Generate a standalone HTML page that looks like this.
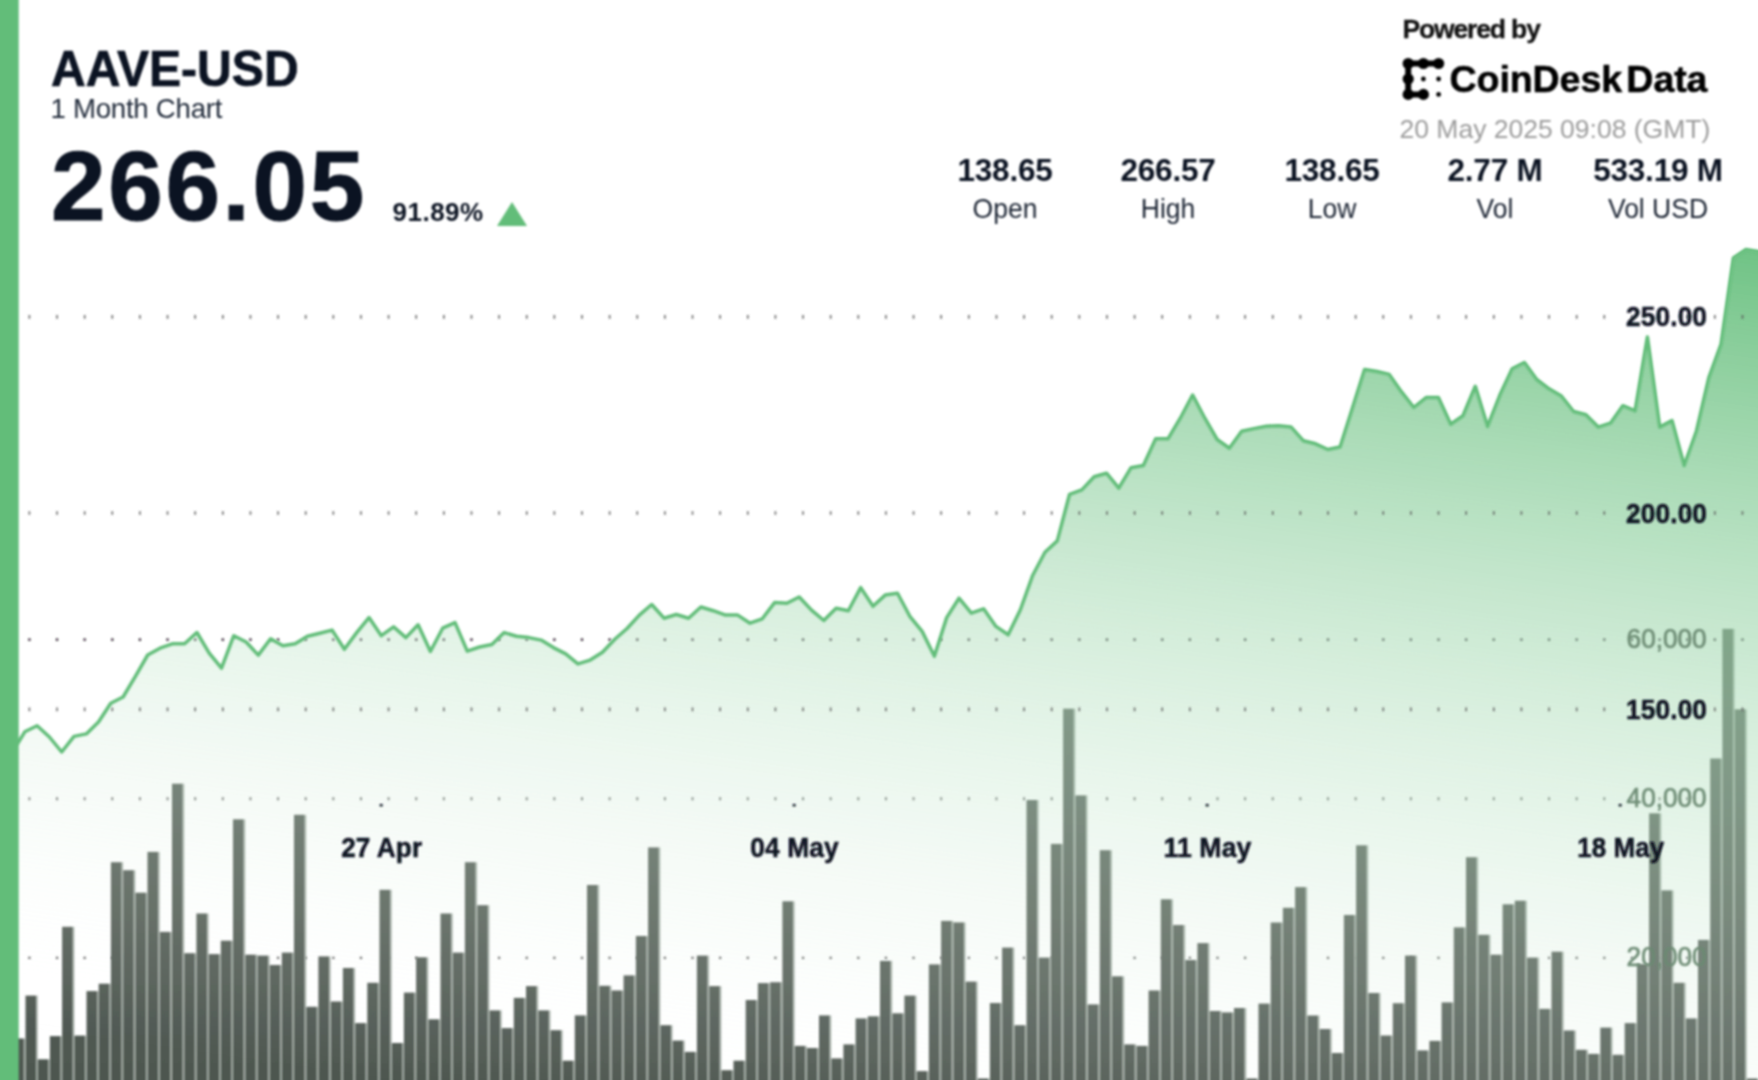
<!DOCTYPE html>
<html lang="en"><head><meta charset="utf-8"><title>AAVE-USD 1 Month Chart</title>
<style>
html,body{margin:0;padding:0;background:#fff;}
body{width:1758px;height:1080px;overflow:hidden;position:relative;font-family:"Liberation Sans",sans-serif;color:#0b1322;}
.chart{position:absolute;left:0;top:0;}
.chart text{font-family:"Liberation Sans",sans-serif;}
.pb{font-weight:700;font-size:28px;text-anchor:end;fill:#0b1322;stroke:#0b1322;stroke-width:0.5px;letter-spacing:0.1px;}
.vl{font-weight:400;font-size:27px;text-anchor:end;fill:#6b8a73;stroke:#6b8a73;stroke-width:0.7px;fill-opacity:.95;stroke-opacity:.95;}
.xlab text{font-weight:700;font-size:27.8px;text-anchor:middle;fill:#0b1322;stroke:#0b1322;stroke-width:0.5px;letter-spacing:0.1px;}
.t{position:absolute;white-space:nowrap;line-height:1;}
.hdr{position:absolute;left:0;top:0;width:1758px;height:260px;filter:blur(0.9px);}
#sym{left:50.8px;top:44.6px;font-size:49.6px;font-weight:700;transform:scaleX(0.97);transform-origin:0 0;-webkit-text-stroke:0.7px #0b1322;}
#sub{left:50.5px;top:94.5px;font-size:27.6px;color:#1e2838;letter-spacing:-0.25px;}
#px{left:51px;top:137px;font-size:98px;font-weight:700;letter-spacing:2.7px;-webkit-text-stroke:1px #0b1322;}
#pct{left:392.5px;top:199px;font-size:26px;font-weight:700;letter-spacing:0.5px;}
#tri{left:497.3px;top:201.7px;width:0;height:0;border-left:15.5px solid transparent;border-right:15.5px solid transparent;border-bottom:24px solid #62bd79;}
.st{position:absolute;top:0;width:200px;text-align:center;}
.st b{position:absolute;left:0;width:200px;top:155px;font-size:31.5px;font-weight:700;line-height:1;white-space:nowrap;letter-spacing:-0.2px;}
.st span{position:absolute;left:0;width:200px;top:194.8px;font-size:27.6px;line-height:1;color:#1a2332;white-space:nowrap;transform:scaleX(0.96);}
#pw{left:1402.5px;top:16px;font-size:26.5px;font-weight:700;color:#111;letter-spacing:-1.15px;-webkit-text-stroke:0.3px #111;}
#cd{left:1449.5px;top:61.3px;font-size:37.6px;font-weight:700;color:#000;letter-spacing:-0.1px;word-spacing:-6px;-webkit-text-stroke:0.5px #000;}
#dt{left:1399.5px;top:115.6px;font-size:26.5px;color:#9c9c9c;}
.logo{position:absolute;left:0;top:0;}
</style></head><body>
<svg class="chart" width="1758" height="1080" viewBox="0 0 1758 1080">
<defs>
<linearGradient id="ag" gradientUnits="userSpaceOnUse" x1="1758" y1="256.6" x2="1615.1" y2="1256.6">
<stop offset="0" stop-color="#62bd79" stop-opacity="0.9"/>
<stop offset="1" stop-color="#ffffff" stop-opacity="0"/>
</linearGradient>
<linearGradient id="bg" gradientUnits="userSpaceOnUse" x1="0" y1="700" x2="0" y2="1080">
<stop offset="0" stop-color="#5d675f"/>
<stop offset="1" stop-color="#4e5750"/>
</linearGradient>
<filter id="soft" x="-5%" y="-5%" width="110%" height="110%"><feGaussianBlur stdDeviation="0.9"/></filter>
<filter id="soft2" x="-5%" y="-5%" width="110%" height="110%"><feGaussianBlur stdDeviation="0.85"/></filter>
</defs>
<g filter="url(#soft2)"><g stroke="#140a14" stroke-opacity="0.95"><line x1="28.27" y1="639.7" x2="1758" y2="639.7" stroke-width="2.25" stroke-dasharray="2.25 25.38"/></g><g stroke="#6e6e6e"><line x1="28.45" y1="798.7" x2="1758" y2="798.7" stroke-width="3.0" stroke-dasharray="1.9 25.73"/></g><g stroke="#5c5c5c"><line x1="28.30" y1="957.9" x2="1758" y2="957.9" stroke-width="2.2" stroke-dasharray="2.2 25.43"/></g></g>
<g filter="url(#soft)">
<g fill="#a3ada5"><rect x="23.9" y="1038.5" width="1.5" height="46.5"/><rect x="36.2" y="995.6" width="1.5" height="89.4"/><rect x="48.4" y="1059.3" width="1.5" height="25.7"/><rect x="60.6" y="1036.1" width="1.5" height="48.9"/><rect x="72.8" y="926.8" width="1.5" height="158.2"/><rect x="85.0" y="1035.6" width="1.5" height="49.4"/><rect x="97.2" y="991.1" width="1.5" height="93.9"/><rect x="109.4" y="983.7" width="1.5" height="101.3"/><rect x="121.6" y="862.2" width="1.5" height="222.8"/><rect x="133.8" y="870.2" width="1.5" height="214.8"/><rect x="146.0" y="892.7" width="1.5" height="192.3"/><rect x="158.2" y="851.9" width="1.5" height="233.1"/><rect x="170.4" y="931.9" width="1.5" height="153.1"/><rect x="182.7" y="783.7" width="1.5" height="301.3"/><rect x="194.9" y="953.2" width="1.5" height="131.8"/><rect x="207.1" y="913.5" width="1.5" height="171.5"/><rect x="219.3" y="954.1" width="1.5" height="130.9"/><rect x="231.5" y="940.7" width="1.5" height="144.3"/><rect x="243.7" y="819.3" width="1.5" height="265.7"/><rect x="255.9" y="954.7" width="1.5" height="130.3"/><rect x="268.1" y="955.6" width="1.5" height="129.4"/><rect x="280.3" y="965.0" width="1.5" height="120.0"/><rect x="292.5" y="952.6" width="1.5" height="132.4"/><rect x="304.7" y="814.8" width="1.5" height="270.2"/><rect x="316.9" y="1006.8" width="1.5" height="78.2"/><rect x="329.1" y="956.4" width="1.5" height="128.6"/><rect x="341.4" y="1001.5" width="1.5" height="83.5"/><rect x="353.6" y="968.0" width="1.5" height="117.0"/><rect x="365.8" y="1023.1" width="1.5" height="61.9"/><rect x="378.0" y="982.8" width="1.5" height="102.2"/><rect x="390.2" y="889.8" width="1.5" height="195.2"/><rect x="402.4" y="1043.0" width="1.5" height="42.0"/><rect x="414.6" y="992.6" width="1.5" height="92.4"/><rect x="426.8" y="957.3" width="1.5" height="127.7"/><rect x="439.0" y="1019.3" width="1.5" height="65.7"/><rect x="451.2" y="913.5" width="1.5" height="171.5"/><rect x="463.4" y="952.6" width="1.5" height="132.4"/><rect x="475.6" y="862.2" width="1.5" height="222.8"/><rect x="487.9" y="905.2" width="1.5" height="179.8"/><rect x="500.1" y="1010.4" width="1.5" height="74.6"/><rect x="512.3" y="1028.1" width="1.5" height="56.9"/><rect x="524.5" y="997.9" width="1.5" height="87.1"/><rect x="536.7" y="986.1" width="1.5" height="98.9"/><rect x="548.9" y="1010.4" width="1.5" height="74.6"/><rect x="561.1" y="1030.2" width="1.5" height="54.8"/><rect x="573.3" y="1060.7" width="1.5" height="24.3"/><rect x="585.5" y="1015.4" width="1.5" height="69.6"/><rect x="597.7" y="885.0" width="1.5" height="200.0"/><rect x="609.9" y="985.8" width="1.5" height="99.2"/><rect x="622.1" y="990.5" width="1.5" height="94.5"/><rect x="634.4" y="975.4" width="1.5" height="109.6"/><rect x="646.6" y="936.0" width="1.5" height="149.0"/><rect x="658.8" y="847.4" width="1.5" height="237.6"/><rect x="671.0" y="1025.2" width="1.5" height="59.8"/><rect x="683.2" y="1040.6" width="1.5" height="44.4"/><rect x="695.4" y="1051.9" width="1.5" height="33.1"/><rect x="707.6" y="955.6" width="1.5" height="129.4"/><rect x="719.8" y="986.1" width="1.5" height="98.9"/><rect x="732.0" y="1070.2" width="1.5" height="14.8"/><rect x="744.2" y="1060.7" width="1.5" height="24.3"/><rect x="756.4" y="1000.0" width="1.5" height="85.0"/><rect x="768.6" y="983.1" width="1.5" height="101.9"/><rect x="780.8" y="982.2" width="1.5" height="102.8"/><rect x="793.1" y="901.3" width="1.5" height="183.7"/><rect x="805.3" y="1045.9" width="1.5" height="39.1"/><rect x="817.5" y="1048.0" width="1.5" height="37.0"/><rect x="829.7" y="1015.4" width="1.5" height="69.6"/><rect x="841.9" y="1058.4" width="1.5" height="26.6"/><rect x="854.1" y="1044.4" width="1.5" height="40.6"/><rect x="866.3" y="1018.4" width="1.5" height="66.6"/><rect x="878.5" y="1016.3" width="1.5" height="68.7"/><rect x="890.7" y="960.9" width="1.5" height="124.1"/><rect x="902.9" y="1013.3" width="1.5" height="71.7"/><rect x="915.1" y="995.6" width="1.5" height="89.4"/><rect x="927.3" y="1071.1" width="1.5" height="13.9"/><rect x="939.6" y="964.4" width="1.5" height="120.6"/><rect x="951.8" y="920.9" width="1.5" height="164.1"/><rect x="964.0" y="922.4" width="1.5" height="162.6"/><rect x="976.2" y="981.6" width="1.5" height="103.4"/><rect x="988.4" y="1078.5" width="1.5" height="6.5"/><rect x="1000.6" y="1003.0" width="1.5" height="82.0"/><rect x="1012.8" y="947.6" width="1.5" height="137.4"/><rect x="1025.0" y="1025.2" width="1.5" height="59.8"/><rect x="1037.2" y="800.0" width="1.5" height="285.0"/><rect x="1049.4" y="957.6" width="1.5" height="127.4"/><rect x="1061.6" y="843.9" width="1.5" height="241.1"/><rect x="1073.8" y="708.7" width="1.5" height="376.3"/><rect x="1086.0" y="795.4" width="1.5" height="289.6"/><rect x="1098.3" y="1004.4" width="1.5" height="80.6"/><rect x="1110.5" y="850.2" width="1.5" height="234.8"/><rect x="1122.7" y="976.3" width="1.5" height="108.7"/><rect x="1134.9" y="1044.4" width="1.5" height="40.6"/><rect x="1147.1" y="1045.9" width="1.5" height="39.1"/><rect x="1159.3" y="990.5" width="1.5" height="94.5"/><rect x="1171.5" y="899.3" width="1.5" height="185.7"/><rect x="1183.7" y="925.0" width="1.5" height="160.0"/><rect x="1195.9" y="960.0" width="1.5" height="125.0"/><rect x="1208.1" y="943.1" width="1.5" height="141.9"/><rect x="1220.3" y="1011.0" width="1.5" height="74.0"/><rect x="1232.5" y="1012.4" width="1.5" height="72.6"/><rect x="1244.8" y="1008.0" width="1.5" height="77.0"/><rect x="1257.0" y="1078.5" width="1.5" height="6.5"/><rect x="1269.2" y="1003.6" width="1.5" height="81.4"/><rect x="1281.4" y="922.5" width="1.5" height="162.5"/><rect x="1293.6" y="907.8" width="1.5" height="177.2"/><rect x="1305.8" y="887.1" width="1.5" height="197.9"/><rect x="1318.0" y="1015.5" width="1.5" height="69.5"/><rect x="1330.2" y="1029.0" width="1.5" height="56.0"/><rect x="1342.4" y="1053.0" width="1.5" height="32.0"/><rect x="1354.6" y="915.0" width="1.5" height="170.0"/><rect x="1366.8" y="845.3" width="1.5" height="239.7"/><rect x="1379.0" y="993.0" width="1.5" height="92.0"/><rect x="1391.2" y="1035.5" width="1.5" height="49.5"/><rect x="1403.5" y="1003.2" width="1.5" height="81.8"/><rect x="1415.7" y="955.6" width="1.5" height="129.4"/><rect x="1427.9" y="1050.4" width="1.5" height="34.6"/><rect x="1440.1" y="1040.9" width="1.5" height="44.1"/><rect x="1452.3" y="1002.4" width="1.5" height="82.6"/><rect x="1464.5" y="927.4" width="1.5" height="157.6"/><rect x="1476.7" y="857.2" width="1.5" height="227.8"/><rect x="1488.9" y="934.8" width="1.5" height="150.2"/><rect x="1501.1" y="954.7" width="1.5" height="130.3"/><rect x="1513.3" y="904.3" width="1.5" height="180.7"/><rect x="1525.5" y="900.7" width="1.5" height="184.3"/><rect x="1537.7" y="957.6" width="1.5" height="127.4"/><rect x="1550.0" y="1008.9" width="1.5" height="76.1"/><rect x="1562.2" y="951.7" width="1.5" height="133.3"/><rect x="1574.4" y="1030.5" width="1.5" height="54.5"/><rect x="1586.6" y="1049.8" width="1.5" height="35.2"/><rect x="1598.8" y="1053.9" width="1.5" height="31.1"/><rect x="1611.0" y="1027.6" width="1.5" height="57.4"/><rect x="1623.2" y="1054.8" width="1.5" height="30.2"/><rect x="1635.4" y="1023.1" width="1.5" height="61.9"/><rect x="1647.6" y="964.0" width="1.5" height="121.0"/><rect x="1659.8" y="813.3" width="1.5" height="271.7"/><rect x="1672.0" y="890.4" width="1.5" height="194.6"/><rect x="1684.2" y="982.8" width="1.5" height="102.2"/><rect x="1696.4" y="1018.4" width="1.5" height="66.6"/><rect x="1708.7" y="939.9" width="1.5" height="145.1"/><rect x="1720.9" y="758.5" width="1.5" height="326.5"/><rect x="1733.1" y="628.9" width="1.5" height="456.1"/><rect x="1745.3" y="709.3" width="1.5" height="375.7"/><rect x="1757.5" y="1078.5" width="1.5" height="6.5"/></g><g fill="url(#bg)"><rect x="13.2" y="1038.5" width="10.7" height="46.5"/><rect x="25.5" y="995.6" width="10.7" height="89.4"/><rect x="37.7" y="1059.3" width="10.7" height="25.7"/><rect x="49.9" y="1036.1" width="10.7" height="48.9"/><rect x="62.1" y="926.8" width="10.7" height="158.2"/><rect x="74.3" y="1035.6" width="10.7" height="49.4"/><rect x="86.5" y="991.1" width="10.7" height="93.9"/><rect x="98.7" y="983.7" width="10.7" height="101.3"/><rect x="110.9" y="862.2" width="10.7" height="222.8"/><rect x="123.1" y="870.2" width="10.7" height="214.8"/><rect x="135.3" y="892.7" width="10.7" height="192.3"/><rect x="147.5" y="851.9" width="10.7" height="233.1"/><rect x="159.7" y="931.9" width="10.7" height="153.1"/><rect x="172.0" y="783.7" width="10.7" height="301.3"/><rect x="184.2" y="953.2" width="10.7" height="131.8"/><rect x="196.4" y="913.5" width="10.7" height="171.5"/><rect x="208.6" y="954.1" width="10.7" height="130.9"/><rect x="220.8" y="940.7" width="10.7" height="144.3"/><rect x="233.0" y="819.3" width="10.7" height="265.7"/><rect x="245.2" y="954.7" width="10.7" height="130.3"/><rect x="257.4" y="955.6" width="10.7" height="129.4"/><rect x="269.6" y="965.0" width="10.7" height="120.0"/><rect x="281.8" y="952.6" width="10.7" height="132.4"/><rect x="294.0" y="814.8" width="10.7" height="270.2"/><rect x="306.2" y="1006.8" width="10.7" height="78.2"/><rect x="318.4" y="956.4" width="10.7" height="128.6"/><rect x="330.7" y="1001.5" width="10.7" height="83.5"/><rect x="342.9" y="968.0" width="10.7" height="117.0"/><rect x="355.1" y="1023.1" width="10.7" height="61.9"/><rect x="367.3" y="982.8" width="10.7" height="102.2"/><rect x="379.5" y="889.8" width="10.7" height="195.2"/><rect x="391.7" y="1043.0" width="10.7" height="42.0"/><rect x="403.9" y="992.6" width="10.7" height="92.4"/><rect x="416.1" y="957.3" width="10.7" height="127.7"/><rect x="428.3" y="1019.3" width="10.7" height="65.7"/><rect x="440.5" y="913.5" width="10.7" height="171.5"/><rect x="452.7" y="952.6" width="10.7" height="132.4"/><rect x="464.9" y="862.2" width="10.7" height="222.8"/><rect x="477.2" y="905.2" width="10.7" height="179.8"/><rect x="489.4" y="1010.4" width="10.7" height="74.6"/><rect x="501.6" y="1028.1" width="10.7" height="56.9"/><rect x="513.8" y="997.9" width="10.7" height="87.1"/><rect x="526.0" y="986.1" width="10.7" height="98.9"/><rect x="538.2" y="1010.4" width="10.7" height="74.6"/><rect x="550.4" y="1030.2" width="10.7" height="54.8"/><rect x="562.6" y="1060.7" width="10.7" height="24.3"/><rect x="574.8" y="1015.4" width="10.7" height="69.6"/><rect x="587.0" y="885.0" width="10.7" height="200.0"/><rect x="599.2" y="985.8" width="10.7" height="99.2"/><rect x="611.4" y="990.5" width="10.7" height="94.5"/><rect x="623.6" y="975.4" width="10.7" height="109.6"/><rect x="635.9" y="936.0" width="10.7" height="149.0"/><rect x="648.1" y="847.4" width="10.7" height="237.6"/><rect x="660.3" y="1025.2" width="10.7" height="59.8"/><rect x="672.5" y="1040.6" width="10.7" height="44.4"/><rect x="684.7" y="1051.9" width="10.7" height="33.1"/><rect x="696.9" y="955.6" width="10.7" height="129.4"/><rect x="709.1" y="986.1" width="10.7" height="98.9"/><rect x="721.3" y="1070.2" width="10.7" height="14.8"/><rect x="733.5" y="1060.7" width="10.7" height="24.3"/><rect x="745.7" y="1000.0" width="10.7" height="85.0"/><rect x="757.9" y="983.1" width="10.7" height="101.9"/><rect x="770.1" y="982.2" width="10.7" height="102.8"/><rect x="782.4" y="901.3" width="10.7" height="183.7"/><rect x="794.6" y="1045.9" width="10.7" height="39.1"/><rect x="806.8" y="1048.0" width="10.7" height="37.0"/><rect x="819.0" y="1015.4" width="10.7" height="69.6"/><rect x="831.2" y="1058.4" width="10.7" height="26.6"/><rect x="843.4" y="1044.4" width="10.7" height="40.6"/><rect x="855.6" y="1018.4" width="10.7" height="66.6"/><rect x="867.8" y="1016.3" width="10.7" height="68.7"/><rect x="880.0" y="960.9" width="10.7" height="124.1"/><rect x="892.2" y="1013.3" width="10.7" height="71.7"/><rect x="904.4" y="995.6" width="10.7" height="89.4"/><rect x="916.6" y="1071.1" width="10.7" height="13.9"/><rect x="928.9" y="964.4" width="10.7" height="120.6"/><rect x="941.1" y="920.9" width="10.7" height="164.1"/><rect x="953.3" y="922.4" width="10.7" height="162.6"/><rect x="965.5" y="981.6" width="10.7" height="103.4"/><rect x="977.7" y="1078.5" width="10.7" height="6.5"/><rect x="989.9" y="1003.0" width="10.7" height="82.0"/><rect x="1002.1" y="947.6" width="10.7" height="137.4"/><rect x="1014.3" y="1025.2" width="10.7" height="59.8"/><rect x="1026.5" y="800.0" width="10.7" height="285.0"/><rect x="1038.7" y="957.6" width="10.7" height="127.4"/><rect x="1050.9" y="843.9" width="10.7" height="241.1"/><rect x="1063.1" y="708.7" width="10.7" height="376.3"/><rect x="1075.3" y="795.4" width="10.7" height="289.6"/><rect x="1087.6" y="1004.4" width="10.7" height="80.6"/><rect x="1099.8" y="850.2" width="10.7" height="234.8"/><rect x="1112.0" y="976.3" width="10.7" height="108.7"/><rect x="1124.2" y="1044.4" width="10.7" height="40.6"/><rect x="1136.4" y="1045.9" width="10.7" height="39.1"/><rect x="1148.6" y="990.5" width="10.7" height="94.5"/><rect x="1160.8" y="899.3" width="10.7" height="185.7"/><rect x="1173.0" y="925.0" width="10.7" height="160.0"/><rect x="1185.2" y="960.0" width="10.7" height="125.0"/><rect x="1197.4" y="943.1" width="10.7" height="141.9"/><rect x="1209.6" y="1011.0" width="10.7" height="74.0"/><rect x="1221.8" y="1012.4" width="10.7" height="72.6"/><rect x="1234.0" y="1008.0" width="10.7" height="77.0"/><rect x="1246.3" y="1078.5" width="10.7" height="6.5"/><rect x="1258.5" y="1003.6" width="10.7" height="81.4"/><rect x="1270.7" y="922.5" width="10.7" height="162.5"/><rect x="1282.9" y="907.8" width="10.7" height="177.2"/><rect x="1295.1" y="887.1" width="10.7" height="197.9"/><rect x="1307.3" y="1015.5" width="10.7" height="69.5"/><rect x="1319.5" y="1029.0" width="10.7" height="56.0"/><rect x="1331.7" y="1053.0" width="10.7" height="32.0"/><rect x="1343.9" y="915.0" width="10.7" height="170.0"/><rect x="1356.1" y="845.3" width="10.7" height="239.7"/><rect x="1368.3" y="993.0" width="10.7" height="92.0"/><rect x="1380.5" y="1035.5" width="10.7" height="49.5"/><rect x="1392.8" y="1003.2" width="10.7" height="81.8"/><rect x="1405.0" y="955.6" width="10.7" height="129.4"/><rect x="1417.2" y="1050.4" width="10.7" height="34.6"/><rect x="1429.4" y="1040.9" width="10.7" height="44.1"/><rect x="1441.6" y="1002.4" width="10.7" height="82.6"/><rect x="1453.8" y="927.4" width="10.7" height="157.6"/><rect x="1466.0" y="857.2" width="10.7" height="227.8"/><rect x="1478.2" y="934.8" width="10.7" height="150.2"/><rect x="1490.4" y="954.7" width="10.7" height="130.3"/><rect x="1502.6" y="904.3" width="10.7" height="180.7"/><rect x="1514.8" y="900.7" width="10.7" height="184.3"/><rect x="1527.0" y="957.6" width="10.7" height="127.4"/><rect x="1539.2" y="1008.9" width="10.7" height="76.1"/><rect x="1551.5" y="951.7" width="10.7" height="133.3"/><rect x="1563.7" y="1030.5" width="10.7" height="54.5"/><rect x="1575.9" y="1049.8" width="10.7" height="35.2"/><rect x="1588.1" y="1053.9" width="10.7" height="31.1"/><rect x="1600.3" y="1027.6" width="10.7" height="57.4"/><rect x="1612.5" y="1054.8" width="10.7" height="30.2"/><rect x="1624.7" y="1023.1" width="10.7" height="61.9"/><rect x="1636.9" y="964.0" width="10.7" height="121.0"/><rect x="1649.1" y="813.3" width="10.7" height="271.7"/><rect x="1661.3" y="890.4" width="10.7" height="194.6"/><rect x="1673.5" y="982.8" width="10.7" height="102.2"/><rect x="1685.7" y="1018.4" width="10.7" height="66.6"/><rect x="1698.0" y="939.9" width="10.7" height="145.1"/><rect x="1710.2" y="758.5" width="10.7" height="326.5"/><rect x="1722.4" y="628.9" width="10.7" height="456.1"/><rect x="1734.6" y="709.3" width="10.7" height="375.7"/><rect x="1746.8" y="1078.5" width="10.7" height="6.5"/></g>
</g>
<g filter="url(#soft)">
<path d="M12.5 752.0 L24.8 731.8 L37.1 725.8 L49.4 737.0 L61.7 752.0 L74.0 736.4 L86.3 733.9 L98.5 722.0 L110.8 703.2 L123.1 697.0 L135.4 676.3 L147.7 655.0 L160.0 648.2 L172.3 643.8 L184.6 643.8 L196.9 632.5 L209.2 653.2 L221.5 668.2 L233.8 635.7 L246.1 642.0 L258.3 655.1 L270.6 638.8 L282.9 645.7 L295.2 643.8 L307.5 636.3 L319.8 633.2 L332.1 630.1 L344.4 649.3 L356.7 632.6 L369.0 617.6 L381.3 635.7 L393.6 626.9 L405.9 637.6 L418.1 624.8 L430.4 651.5 L442.7 628.2 L455.0 622.6 L467.3 651.2 L479.6 647.0 L491.9 644.5 L504.2 632.6 L516.5 636.3 L528.8 637.6 L541.1 640.1 L553.4 647.6 L565.7 653.9 L577.9 663.9 L590.2 660.1 L602.5 652.3 L614.8 639.3 L627.1 628.5 L639.4 615.1 L651.7 604.5 L664.0 618.2 L676.3 614.5 L688.6 618.2 L700.9 607.0 L713.2 610.7 L725.5 615.1 L737.7 615.1 L750.0 623.2 L762.3 618.8 L774.6 602.6 L786.9 603.2 L799.2 597.0 L811.5 610.1 L823.8 620.5 L836.1 608.2 L848.4 610.7 L860.7 587.6 L873.0 606.3 L885.2 595.1 L897.5 593.2 L909.8 616.3 L922.1 631.4 L934.4 656.3 L946.7 617.6 L959.0 598.2 L971.3 613.2 L983.6 608.8 L995.9 626.4 L1008.2 634.8 L1020.5 609.5 L1032.8 575.2 L1045.0 552.3 L1057.3 540.9 L1069.6 494.3 L1081.9 489.9 L1094.2 476.7 L1106.5 473.2 L1118.8 488.1 L1131.1 467.7 L1143.4 465.5 L1155.7 438.8 L1168.0 438.8 L1180.3 418.2 L1192.6 395.0 L1204.8 418.2 L1217.1 439.5 L1229.4 448.2 L1241.7 431.3 L1254.0 428.6 L1266.3 426.3 L1278.6 425.7 L1290.9 426.9 L1303.2 440.7 L1315.5 443.8 L1327.8 449.5 L1340.1 447.0 L1352.4 408.2 L1364.6 369.4 L1376.9 371.5 L1389.2 374.4 L1401.5 391.9 L1413.8 407.5 L1426.1 397.6 L1438.4 397.6 L1450.7 424.2 L1463.0 415.7 L1475.3 386.3 L1487.6 426.4 L1499.9 395.1 L1512.2 368.8 L1524.4 362.5 L1536.7 379.5 L1549.0 388.8 L1561.3 396.0 L1573.6 411.5 L1585.9 414.8 L1598.2 427.1 L1610.5 423.2 L1622.8 405.7 L1635.1 410.9 L1647.4 337.0 L1659.7 427.1 L1672.0 420.6 L1684.2 465.5 L1696.5 431.0 L1708.8 377.8 L1721.1 344.1 L1733.4 257.9 L1745.7 249.6 L1758.0 251.5 L1775.0 252.5 L1775 1120 L12.5 1120 Z" fill="url(#ag)"/>
</g>
<g filter="url(#soft2)"><g stroke="#5a5a5a" stroke-opacity="0.9"><line x1="28.60" y1="316.8" x2="1758" y2="316.8" stroke-width="3.7" stroke-dasharray="1.6 26.03"/><line x1="28.60" y1="513.0" x2="1758" y2="513.0" stroke-width="3.7" stroke-dasharray="1.6 26.03"/><line x1="28.60" y1="709.4" x2="1758" y2="709.4" stroke-width="3.7" stroke-dasharray="1.6 26.03"/></g></g>
<g filter="url(#soft)">
<g class="ylab">
<text x="1707.1" y="326.3" class="pb" textLength="81" lengthAdjust="spacingAndGlyphs">250.00</text>
<text x="1707.1" y="522.5" class="pb" textLength="81" lengthAdjust="spacingAndGlyphs">200.00</text>
<text x="1707.1" y="718.9" class="pb" textLength="81" lengthAdjust="spacingAndGlyphs">150.00</text>
<text x="1706.6" y="648.0" class="vl" textLength="80" lengthAdjust="spacingAndGlyphs">60,000</text>
<text x="1706.6" y="807.0" class="vl" textLength="80" lengthAdjust="spacingAndGlyphs">40,000</text>
<text x="1706.6" y="966.2" class="vl" textLength="80" lengthAdjust="spacingAndGlyphs">20,000</text>
</g>
<g fill="#0b1322">
<rect x="379.7" y="804" width="2.9" height="2.4"/><rect x="792.7" y="804" width="2.9" height="2.4"/><rect x="1205.7" y="804" width="2.9" height="2.4"/><rect x="1618.7" y="804" width="2.9" height="2.4"/>
</g>
<g class="xlab">
<text x="381.7" y="856.7" textLength="81" lengthAdjust="spacingAndGlyphs">27 Apr</text>
<text x="794.5" y="856.7" textLength="88.3" lengthAdjust="spacingAndGlyphs">04 May</text>
<text x="1207.5" y="856.7" textLength="88" lengthAdjust="spacingAndGlyphs">11 May</text>
<text x="1620.7" y="856.7" textLength="87" lengthAdjust="spacingAndGlyphs">18 May</text>
</g>
<path d="M12.5 752.0 L24.8 731.8 L37.1 725.8 L49.4 737.0 L61.7 752.0 L74.0 736.4 L86.3 733.9 L98.5 722.0 L110.8 703.2 L123.1 697.0 L135.4 676.3 L147.7 655.0 L160.0 648.2 L172.3 643.8 L184.6 643.8 L196.9 632.5 L209.2 653.2 L221.5 668.2 L233.8 635.7 L246.1 642.0 L258.3 655.1 L270.6 638.8 L282.9 645.7 L295.2 643.8 L307.5 636.3 L319.8 633.2 L332.1 630.1 L344.4 649.3 L356.7 632.6 L369.0 617.6 L381.3 635.7 L393.6 626.9 L405.9 637.6 L418.1 624.8 L430.4 651.5 L442.7 628.2 L455.0 622.6 L467.3 651.2 L479.6 647.0 L491.9 644.5 L504.2 632.6 L516.5 636.3 L528.8 637.6 L541.1 640.1 L553.4 647.6 L565.7 653.9 L577.9 663.9 L590.2 660.1 L602.5 652.3 L614.8 639.3 L627.1 628.5 L639.4 615.1 L651.7 604.5 L664.0 618.2 L676.3 614.5 L688.6 618.2 L700.9 607.0 L713.2 610.7 L725.5 615.1 L737.7 615.1 L750.0 623.2 L762.3 618.8 L774.6 602.6 L786.9 603.2 L799.2 597.0 L811.5 610.1 L823.8 620.5 L836.1 608.2 L848.4 610.7 L860.7 587.6 L873.0 606.3 L885.2 595.1 L897.5 593.2 L909.8 616.3 L922.1 631.4 L934.4 656.3 L946.7 617.6 L959.0 598.2 L971.3 613.2 L983.6 608.8 L995.9 626.4 L1008.2 634.8 L1020.5 609.5 L1032.8 575.2 L1045.0 552.3 L1057.3 540.9 L1069.6 494.3 L1081.9 489.9 L1094.2 476.7 L1106.5 473.2 L1118.8 488.1 L1131.1 467.7 L1143.4 465.5 L1155.7 438.8 L1168.0 438.8 L1180.3 418.2 L1192.6 395.0 L1204.8 418.2 L1217.1 439.5 L1229.4 448.2 L1241.7 431.3 L1254.0 428.6 L1266.3 426.3 L1278.6 425.7 L1290.9 426.9 L1303.2 440.7 L1315.5 443.8 L1327.8 449.5 L1340.1 447.0 L1352.4 408.2 L1364.6 369.4 L1376.9 371.5 L1389.2 374.4 L1401.5 391.9 L1413.8 407.5 L1426.1 397.6 L1438.4 397.6 L1450.7 424.2 L1463.0 415.7 L1475.3 386.3 L1487.6 426.4 L1499.9 395.1 L1512.2 368.8 L1524.4 362.5 L1536.7 379.5 L1549.0 388.8 L1561.3 396.0 L1573.6 411.5 L1585.9 414.8 L1598.2 427.1 L1610.5 423.2 L1622.8 405.7 L1635.1 410.9 L1647.4 337.0 L1659.7 427.1 L1672.0 420.6 L1684.2 465.5 L1696.5 431.0 L1708.8 377.8 L1721.1 344.1 L1733.4 257.9 L1745.7 249.6 L1758.0 251.5 L1775.0 252.5" fill="none" stroke="#62bd79" stroke-width="3.5" stroke-linejoin="round" stroke-linecap="round"/>
<rect x="-20" y="-20" width="38.7" height="1120" fill="#62bd79"/>
</g>
</svg>
<div class="hdr">
<div class="t" id="sym">AAVE-USD</div>
<div class="t" id="sub">1 Month Chart</div>
<div class="t" id="px">266.05</div>
<div class="t" id="pct">91.89%</div>
<div class="t" id="tri"></div>
<div class="st" style="left:905px"><b>138.65</b><span>Open</span></div>
<div class="st" style="left:1068px"><b>266.57</b><span>High</span></div>
<div class="st" style="left:1232px"><b>138.65</b><span>Low</span></div>
<div class="st" style="left:1395px"><b>2.77 M</b><span>Vol</span></div>
<div class="st" style="left:1558px"><b>533.19 M</b><span>Vol USD</span></div>
<div class="t" id="pw">Powered by</div>
<svg class="logo" width="1758" height="260" viewBox="0 0 1758 260"><g fill="#000" stroke="#000"><path d="M1438.6 63.5 L1408.2 63.5 L1408.2 94.4 L1423.4 94.4" fill="none" stroke-width="6" stroke-linecap="round" stroke-linejoin="round"/><circle cx="1408.2" cy="63.5" r="5.6" stroke="none"/><circle cx="1423.4" cy="63.5" r="5.6" stroke="none"/><circle cx="1438.6" cy="63.5" r="5.6" stroke="none"/><circle cx="1408.2" cy="79" r="5.6" stroke="none"/><circle cx="1408.2" cy="94.4" r="5.6" stroke="none"/><circle cx="1423.4" cy="94.4" r="5.6" stroke="none"/><circle cx="1423.4" cy="79" r="2.4" stroke="none"/><circle cx="1438.6" cy="79" r="2.4" stroke="none"/><circle cx="1438.6" cy="94.4" r="2.4" stroke="none"/></g></svg>
<div class="t" id="cd">CoinDesk Data</div>
<div class="t" id="dt">20 May 2025 09:08 (GMT)</div>
</div>
</body></html>
